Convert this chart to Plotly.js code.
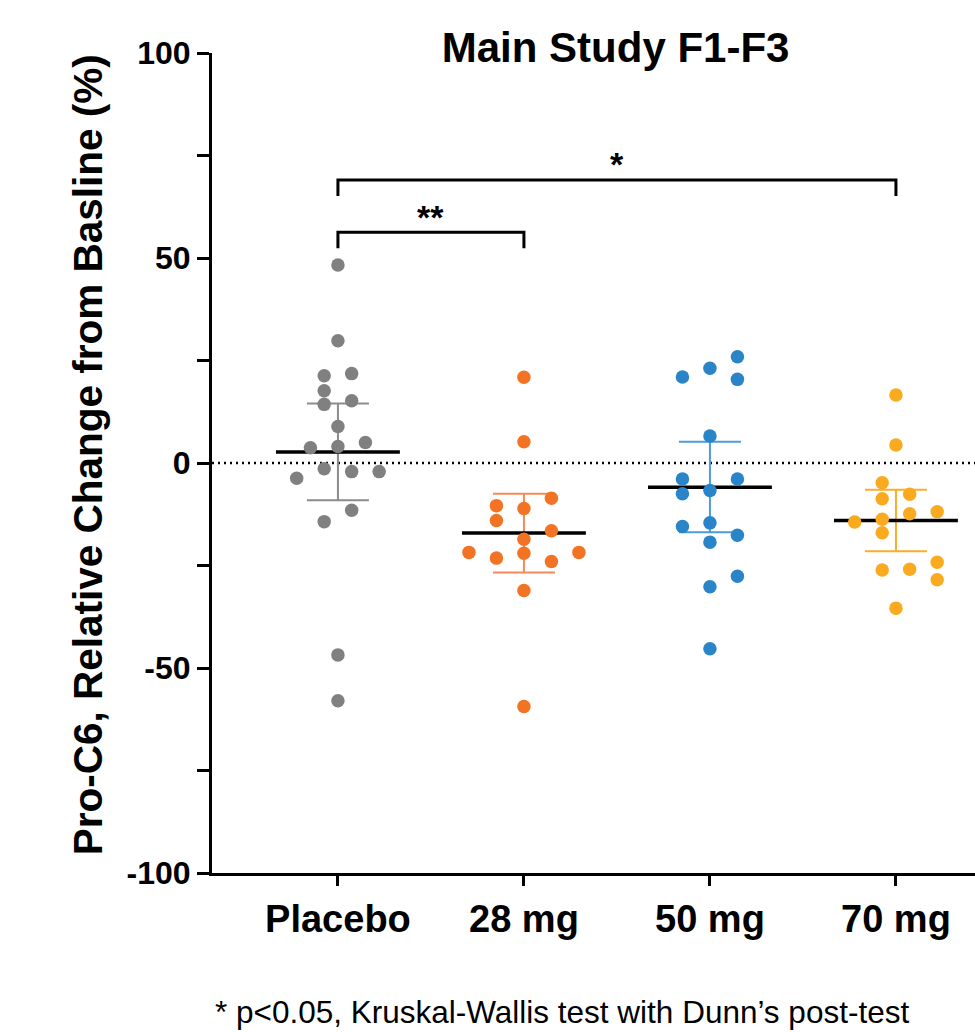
<!DOCTYPE html>
<html>
<head>
<meta charset="utf-8">
<script src="https://cdn.plot.ly/plotly-3.0.1.min.js"></script>
<style>html,body{margin:0;padding:0;background:#fff;}#chart{width:975px;height:1032px;}</style>
</head>
<body>
<div id="chart"></div>
<script>
// ---- Data ----
const categories = ["Placebo", "28 mg", "50 mg", "70 mg"];

const placeboValues = [48.3, 29.8, 21.3, 21.8, 17.6, 14.3, 15.2, 8.9, 3.7, 4.0, 5.0, -1.4, -2.1, -2.1, -3.7, -11.5, -14.3, -46.8, -58.0];
const placeboSlots  = [0, 0, -1, 1, -1, -1, 1, 0, -2, 0, 2, -1, 1, 3, -3, 1, -1, 0, 0];

const mg28Values = [20.9, 5.2, -8.6, -10.4, -11.1, -14.0, -16.5, -18.6, -21.8, -21.8, -22.0, -23.2, -24.0, -31.1, -59.4];
const mg28Slots  = [0, 0, 2, -2, 0, -2, 2, 0, -4, 4, 0, -2, 2, 0, 0];

const mg50Values = [25.9, 23.1, 21.0, 20.4, 6.6, -3.9, -3.9, -7.5, -6.7, -14.6, -15.5, -17.6, -19.3, -27.6, -30.2, -45.3];
const mg50Slots  = [2, 0, -2, 2, 0, -2, 2, -2, 0, 0, -2, 2, 0, 2, 0, 0];

const mg70Values = [16.6, 4.4, -4.8, -7.6, -8.7, -11.9, -12.4, -14.4, -13.7, -17.0, -24.2, -26.1, -25.9, -28.5, -35.4];
const mg70Slots  = [0, 0, -1, 1, -1, 3, 1, -3, -1, -1, 3, -1, 1, 3, 0];

const medians = [2.7, -17.1, -5.9, -14.0];
const q1s     = [-9.1, -26.7, -16.9, -21.5];
const q3s     = [14.5, -7.5, 5.2, -6.5];

const yTickVals = [-100, -50, 0, 50, 100];
const yTickText = ["-100", "-50", "0", "50", "100"];

// ---- Styling ----
const dotColors = ["#808080", "#F37324", "#2A84C8", "#FAAA1E"];
const errColors = ["#8C8C8C", "#F5895A", "#4D9CD8", "#F7AE2A"];
const FONT = "Liberation Sans, Arial, Helvetica, sans-serif";
const slotUnit = 0.0739;

const groups = [
  {v: placeboValues, s: placeboSlots},
  {v: mg28Values, s: mg28Slots},
  {v: mg50Values, s: mg50Slots},
  {v: mg70Values, s: mg70Slots}
];

const traces = [];
// summary (median + IQR) first so dots are drawn above
groups.forEach((g, i) => {
  traces.push({
    type: "scatter", mode: "markers",
    x: [i], y: [medians[i]],
    marker: {symbol: "line-ew", size: 88.5, color: "#000", line: {color: "#000", width: 3.5}},
    error_y: {type: "data", symmetric: false,
      array: [q3s[i] - medians[i]], arrayminus: [medians[i] - q1s[i]],
      color: errColors[i], thickness: 2, width: 31},
    hoverinfo: "skip", showlegend: false
  });
});
groups.forEach((g, i) => {
  traces.push({
    type: "scatter", mode: "markers",
    x: g.s.map(s => i + s * slotUnit), y: g.v,
    marker: {size: 13.5, color: dotColors[i], line: {width: 0}},
    name: categories[i], showlegend: false, hoverinfo: "y"
  });
});

const bracketLine = {color: "#000", width: 3};
const layout = {
  width: 975, height: 1032,
  margin: {l: 212, r: 0, t: 53, b: 159, pad: 0},
  paper_bgcolor: "#fff", plot_bgcolor: "#fff",
  font: {family: FONT, color: "#000"},
  showlegend: false, hovermode: false,
  title: {text: "<b>Main Study F1-F3</b>", font: {family: FONT, size: 42, color: "#000"},
    xref: "paper", x: 0.529, xanchor: "center", yref: "container", y: 0.954, yanchor: "middle"},
  xaxis: {
    range: [-0.677, 3.425], showgrid: false, zeroline: false,
    showline: true, linecolor: "#000", linewidth: 3,
    tickmode: "array", tickvals: [0, 1, 2, 3], ticktext: categories.map(c => "<b>" + c + "</b>"),
    ticks: "outside", ticklen: 10, tickwidth: 3, tickcolor: "#000",
    tickfont: {family: FONT, size: 38, color: "#000"}, fixedrange: true
  },
  yaxis: {
    range: [-100, 100], showgrid: false, zeroline: false,
    showline: true, linecolor: "#000", linewidth: 3,
    tickmode: "array", tickvals: yTickVals, ticktext: yTickText.map(t => "<b>" + t + "</b>"),
    ticks: "outside", ticklen: 12, tickwidth: 3, tickcolor: "#000",
    minor: {tickvals: [-75, -25, 25, 75], ticks: "outside", ticklen: 12, tickwidth: 3, tickcolor: "#000"},
    tickfont: {family: FONT, size: 32, color: "#000"},
    fixedrange: true
  },
  shapes: [
    {type: "line", xref: "paper", yref: "y", x0: 0, x1: 1, y0: 0, y1: 0, layer: "below",
      line: {color: "#000", width: 2.5, dash: "2px,4px"}},
    {type: "path", xref: "x", yref: "y", path: "M0,65.1 L0,69 L3,69 L3,65.1", line: bracketLine},
    {type: "path", xref: "x", yref: "y", path: "M0,52.4 L0,56.3 L1,56.3 L1,52.4", line: bracketLine}
  ],
  annotations: [
    {xref: "paper", yref: "paper", x: -0.162, y: 0.5098, textangle: -90,
      text: "<b>Pro-C6, Relative Change from Basline (%)</b>", showarrow: false,
      xanchor: "center", yanchor: "middle", font: {family: FONT, size: 40.5, color: "#000"}},
    {xref: "x", yref: "y", x: 1.5, y: 69, yshift: -5, text: "<b>*</b>", showarrow: false,
      xanchor: "center", yanchor: "bottom", font: {family: FONT, size: 34, color: "#000"}},
    {xref: "x", yref: "y", x: 0.5, y: 56.3, yshift: -6, text: "<b>**</b>", showarrow: false,
      xanchor: "center", yanchor: "bottom", font: {family: FONT, size: 34, color: "#000"}},
    {xref: "paper", yref: "paper", x: 0.4587, y: -0.169, text: "* p<0.05, Kruskal-Wallis test with Dunn\u2019s post-test",
      showarrow: false, xanchor: "center", yanchor: "middle", font: {family: FONT, size: 31.5, color: "#000"}}
  ]
};

Plotly.newPlot("chart", traces, layout, {displayModeBar: false, staticPlot: true});
</script>
</body>
</html>
